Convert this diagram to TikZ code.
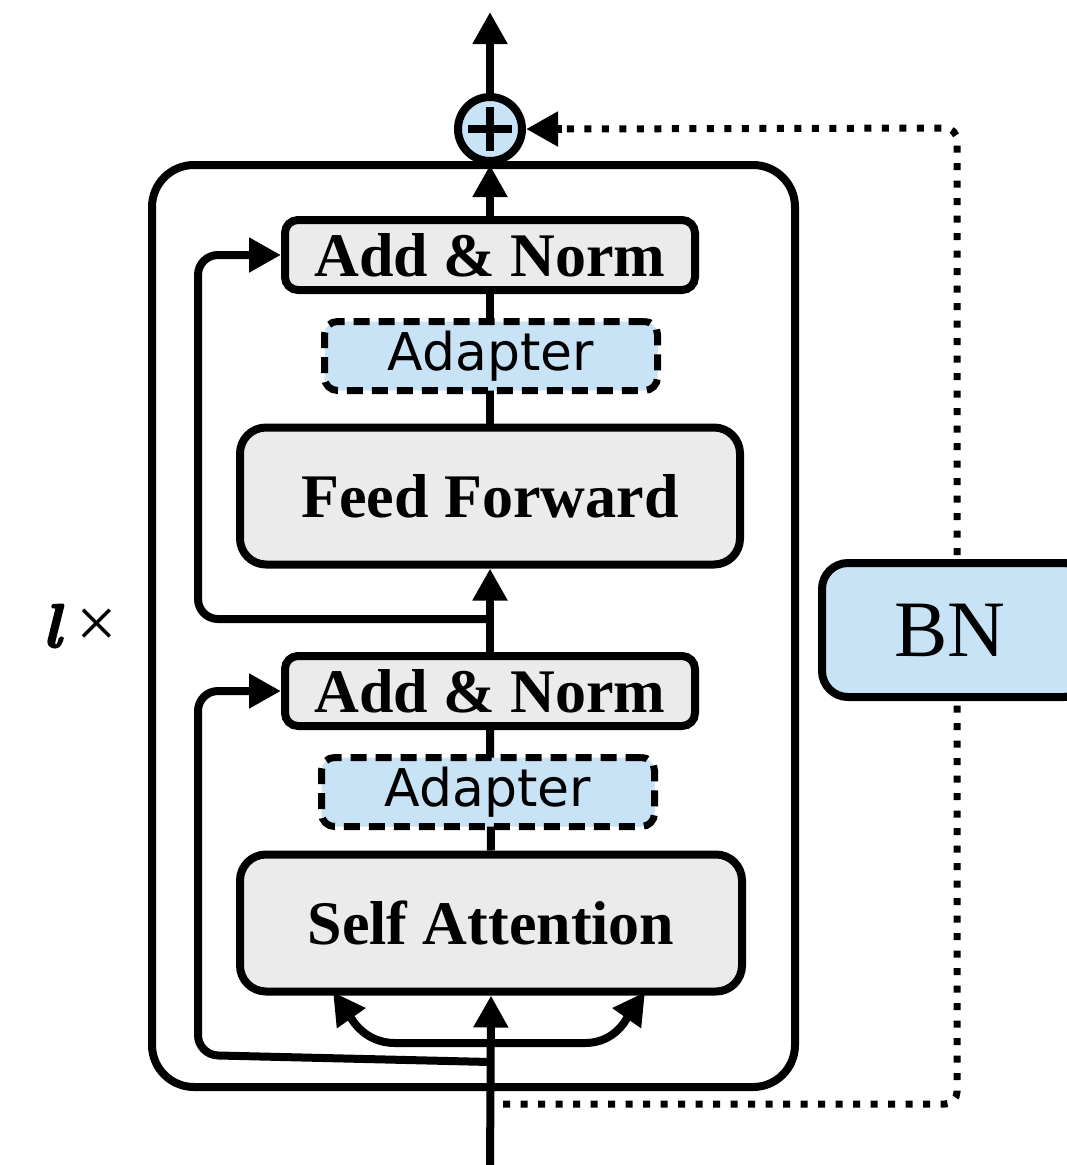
\documentclass[tikz,border=0pt]{standalone}
\usepackage{fontspec}
\setmainfont{Liberation Serif}
\newfontfamily\adapterfont{DejaVu Sans}
\newfontfamily\lmbolditalic{lmroman10-bolditalic.otf}[FakeBold=2.5]
\usetikzlibrary{arrows.meta,backgrounds}

\definecolor{boxgray}{RGB}{235,235,235}
\definecolor{boxblue}{RGB}{200,226,246}

\tikzset{
  line/.style={line width=8pt},
  arr/.style={line width=8pt,-{Triangle[length=32pt,width=33pt]}},
  dotline/.style={line width=7pt,dash pattern=on 7pt off 10.5pt},
  block/.style={draw,line width=8pt,fill=boxgray,rounded corners=26pt,
    font=\fontsize{62}{70}\selectfont\bfseries,inner sep=0pt},
  normbox/.style={draw,line width=8pt,fill=boxgray,rounded corners=13pt,
    font=\fontsize{62}{70}\selectfont\bfseries,inner sep=0pt,
    minimum width=410pt,minimum height=70pt},
  adapterbox/.style={draw,line width=7pt,dash pattern=on 16pt off 9pt,
    fill=boxblue,rounded corners=13pt,inner sep=0pt,
    font=\adapterfont\fontsize{52}{60}\selectfont,
    minimum width=333pt,minimum height=69pt},
}

\begin{document}
\begin{tikzpicture}[x=1pt,y=-1pt]
\useasboundingbox (0,0) rectangle (1066,1165);

% repeated layer frame
\node[draw,line width=8pt,rounded corners=42pt,minimum width=643pt,
  minimum height=922pt,inner sep=0pt] (frame) at (473.5,626) {};
\node (times) at (80,626) {{\lmbolditalic\fontsize{62}{66}\selectfont l}\hspace{16pt}\fontsize{72}{80}\selectfont×};

% sub-layers
\node[block,minimum width=502pt,minimum height=137pt] (sa) at (491,923) {Self Attention};
\node[adapterbox] (adl) at (488,792) {Adapter};
\node[normbox] (anl) at (490,691) {Add \& Norm};
\node[block,minimum width=500pt,minimum height=137pt] (ff) at (490,496) {Feed Forward};
\node[adapterbox] (adt) at (491,356) {Adapter};
\node[normbox] (ant) at (490,255) {Add \& Norm};

% residual sum and batch norm branch
\node[circle,draw,line width=8pt,fill=boxblue,minimum size=64pt,inner sep=0pt] (plus) at (490,129) {};
\draw[line width=8pt] (plus.center) ++(-22,0) -- ++(44,0);
\draw[line width=8pt] (plus.center) ++(0,-22) -- ++(0,44);
\node[draw,line width=8pt,fill=boxblue,rounded corners=26pt,minimum width=268pt,
  minimum height=134pt,inner sep=0pt] (bn) at (956,630) {};
\node (bntext) at (950,630) {\fontsize{80}{90}\selectfont BN};

% connection points
\coordinate (in) at (490,1170);
\coordinate (fork) at (490,1043);
\coordinate (res1) at (490,1062);
\coordinate (res1c) at (198,1055);
\coordinate (res2) at (490,619);
\coordinate (res2c) at (198,619);
\coordinate (out) at (490,12);
\coordinate (bnin) at (503,1104);
\coordinate (bnc1) at (957,1104);
\coordinate (bnc2) at (957,128);
\coordinate (qleft) at (333,992);
\coordinate (qright) at (645,992);

\begin{pgfonlayer}{background}
  \draw[arr] (in) -- (sa.south);
  \draw[arr] (fork) -- (395,1043) to[out=180,in=-55] (qleft);
  \draw[arr] (fork) -- (585,1043) to[out=0,in=235] (qright);
  \draw[arr,rounded corners=20pt] (res1) -- (res1c) |- (anl.west);
  \draw[line] (sa.north) -- (anl.south);
  \draw[arr] (anl.north) -- (ff.south);
  \draw[arr,rounded corners=20pt] (res2) -- (res2c) |- (ant.west);
  \draw[line] (ff.north) -- (ant.south);
  \draw[arr] (ant.north) -- (plus.south);
  \draw[arr] (plus.north) -- (out);
  \draw[dotline,rounded corners=12pt] (bnin) -- (bnc1) -- (bnc2) -- ([xshift=34pt]plus.east);
\end{pgfonlayer}
\draw[line width=8pt,-{Triangle[length=32pt,width=33pt]}] ([xshift=36pt]plus.east) -- (plus.east);
\end{tikzpicture}
\end{document}
